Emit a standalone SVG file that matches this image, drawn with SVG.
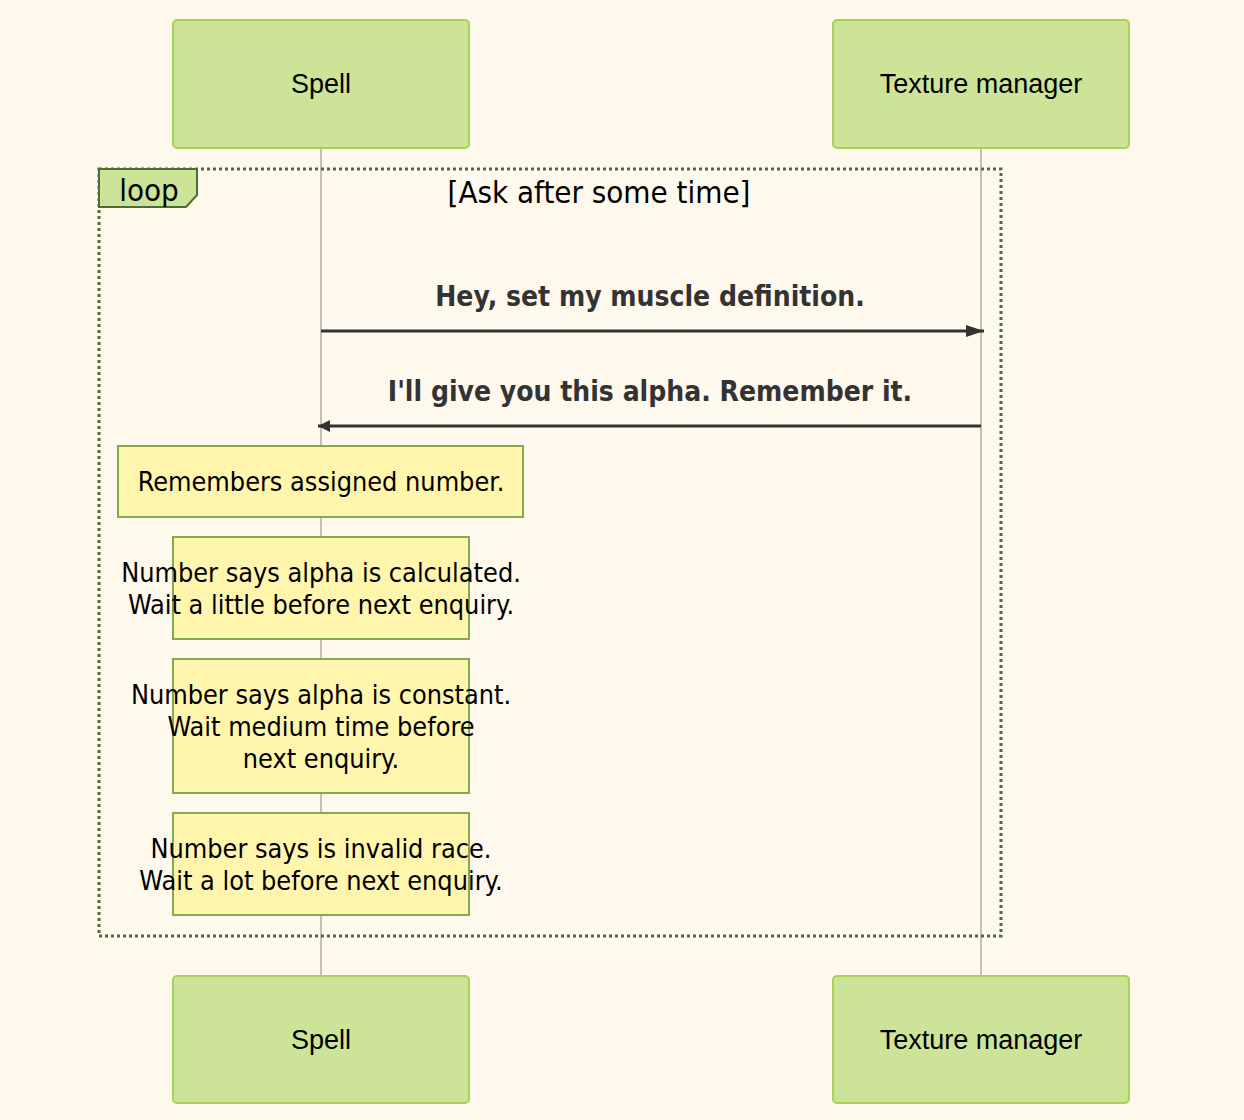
<svg xmlns="http://www.w3.org/2000/svg" width="1244" height="1120" viewBox="0 0 1244 1120">
<defs>
<style>
.actor{fill:#cde498;stroke:#a7d256;stroke-width:2}
.actorText{font-family:"Liberation Sans",Arial,sans-serif;font-size:27px;fill:#000;text-anchor:middle}
.life{stroke:#c4c0b4;stroke-width:2}
.note{fill:#fff5ad;stroke:#84a94f;stroke-width:2}
.noteText{font-family:"DejaVu Sans Condensed","DejaVu Sans",sans-serif;font-size:26.8px;fill:#000;text-anchor:middle}
.msgText{font-family:"DejaVu Sans Condensed","DejaVu Sans",sans-serif;font-size:28px;font-weight:bold;fill:#333;text-anchor:middle}
.msg{stroke:#333;stroke-width:3;fill:none}
.loopLine{fill:none;stroke:#4b6e37;stroke-width:3;stroke-dasharray:3,3}
.loopText{font-family:"DejaVu Sans Condensed","DejaVu Sans",sans-serif;font-size:31px;fill:#000;text-anchor:middle}
</style>
<marker id="arrow" viewBox="0 0 12 12" refX="12" refY="6" markerWidth="12" markerHeight="12" markerUnits="userSpaceOnUse" orient="auto">
<path d="M0,0 L12,6 L0,12 z" fill="#333"/>
</marker>
<marker id="arrowBig" viewBox="0 0 18 12" refX="18" refY="6" markerWidth="18" markerHeight="12" markerUnits="userSpaceOnUse" orient="auto">
<path d="M0,0 L18,6 L0,12 z" fill="#333"/>
</marker>
</defs>
<rect width="1244" height="1120" fill="#fff8ec"/>
<g id="lifelines">
<line class="life" x1="321" y1="148" x2="321" y2="976"/>
<line class="life" x1="981" y1="148" x2="981" y2="976"/>
</g>
<g id="actor-spell-top"><rect class="actor" x="173" y="20" width="296" height="128" rx="4"/><text class="actorText" x="321" y="93">Spell</text></g>
<g id="actor-texture-top"><rect class="actor" x="833" y="20" width="296" height="128" rx="4"/><text class="actorText" x="981" y="93">Texture manager</text></g>
<g id="actor-spell-bottom"><rect class="actor" x="173" y="976" width="296" height="127" rx="4"/><text class="actorText" x="321" y="1049">Spell</text></g>
<g id="actor-texture-bottom"><rect class="actor" x="833" y="976" width="296" height="127" rx="4"/><text class="actorText" x="981" y="1049">Texture manager</text></g>
<g id="loop">
<rect class="loopLine" x="99" y="169" width="902" height="767"/>
<polygon points="99,169 197,169 197,195 186,207 99,207" fill="#cde498" stroke="#4b6e37" stroke-width="2"/>
<text class="loopText" x="149" y="201">loop</text>
<text class="loopText" x="599" y="203">[Ask after some time]</text>
</g>
<g id="connectors">
<line class="msg" x1="321" y1="331" x2="984" y2="331" marker-end="url(#arrowBig)"/>
<line class="msg" x1="981" y1="426" x2="318" y2="426" marker-end="url(#arrow)"/>
</g>
<g id="msg-labels">
<text class="msgText" x="650" y="306">Hey, set my muscle definition.</text>
<text class="msgText" x="650" y="401">I'll give you this alpha. Remember it.</text>
</g>
<g id="note1"><rect class="note" x="118" y="446" width="405" height="71"/><text class="noteText" x="321" y="491">Remembers assigned number.</text></g>
<g id="note2"><rect class="note" x="173" y="537" width="296" height="102"/><text class="noteText" x="321" y="582">Number says alpha is calculated.</text><text class="noteText" x="321" y="614">Wait a little before next enquiry.</text></g>
<g id="note3"><rect class="note" x="173" y="659" width="296" height="134"/><text class="noteText" x="321" y="704">Number says alpha is constant.</text><text class="noteText" x="321" y="736">Wait medium time before</text><text class="noteText" x="321" y="768">next enquiry.</text></g>
<g id="note4"><rect class="note" x="173" y="813" width="296" height="102"/><text class="noteText" x="321" y="858">Number says is invalid race.</text><text class="noteText" x="321" y="890">Wait a lot before next enquiry.</text></g>
</svg>
